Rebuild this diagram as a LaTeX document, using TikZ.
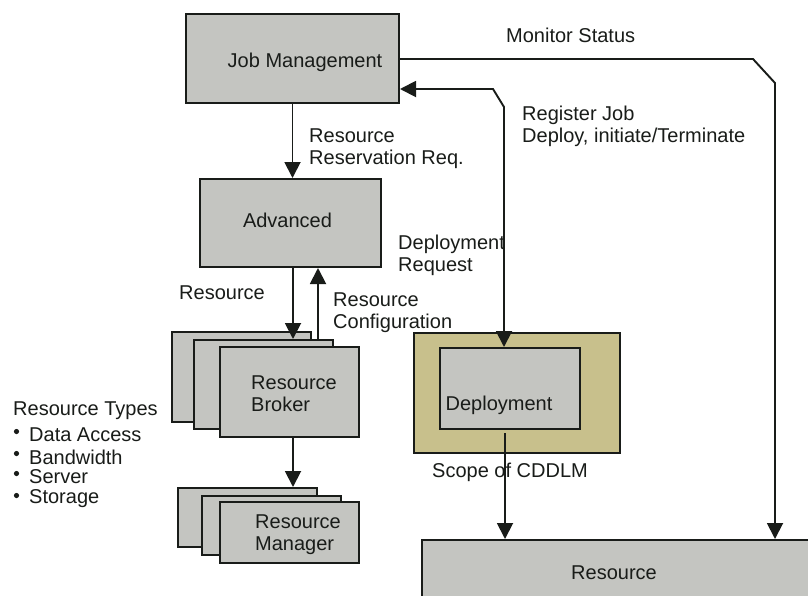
\documentclass[tikz,border=0pt]{standalone}
\usepackage{fontspec}
\setmainfont{Liberation Sans}
\usetikzlibrary{arrows.meta,calc}
\definecolor{boxgray}{RGB}{196,197,193}
\definecolor{scopetan}{RGB}{200,192,140}
\definecolor{ink}{RGB}{25,28,25}
\begin{document}
\begin{tikzpicture}[x=1pt,y=-1pt,
  box/.style={draw=ink,line width=2pt,fill=boxgray,inner sep=0pt},
  txt/.style={inner sep=0pt,text=ink,font=\fontsize{20}{21.8}\selectfont,align=left},
  conn/.style={line width=1.9pt,draw=ink},
  tip/.style={-{Triangle[width=16pt,length=16pt]}},
  bothtip/.style={{Triangle[width=16pt,length=16pt]}-{Triangle[width=16pt,length=16pt]}}]
\useasboundingbox (0,0) rectangle (808,595);
\clip (0,0) rectangle (808,595);
\fill[white] (0,0) rectangle (808,595);

% boxes
\node[box,minimum width=213pt,minimum height=89pt] (jm) at (292.5,58.5) {};
\node[txt] (jmt) at (305,62) {Job Management};
\node[box,minimum width=181pt,minimum height=88pt] (adv) at (290.5,223) {};
\node[txt] (advt) at (287.5,220) {Advanced};

\node[box,minimum width=139pt,minimum height=90pt] (rb1) at (241.5,377) {};
\node[box,minimum width=139pt,minimum height=89pt] (rb2) at (263.5,384.5) {};
\node[box,minimum width=139pt,minimum height=90pt] (rb) at (289.5,392) {};
\node[txt] (rbt) at (294,393.5) {Resource\\Broker};

\node[box,minimum width=139pt,minimum height=59pt] (rm1) at (247.5,517.5) {};
\node[box,minimum width=139pt,minimum height=59pt] (rm2) at (271.5,525.5) {};
\node[box,minimum width=139pt,minimum height=61pt] (rm) at (289.5,532.5) {};
\node[txt] (rmt) at (298,535) {Resource\\Manager};

\node[box,fill=scopetan,minimum width=206pt,minimum height=120pt] (scope) at (517,393) {};
\node[box,minimum width=140pt,minimum height=81pt] (dep) at (510,388.5) {};
\node[txt] (dept) at (499,405) {Deployment};

\node[box,minimum width=400pt,minimum height=70pt] (res) at (622,575) {};
\node[txt] (rest) at (614,573) {Resource};

% connectors
\draw[conn,tip] (jm.south) -- (jm.south |- adv.north);
\coordinate (a1) at ($(adv.south)+(2.5,0)$);
\draw[conn,tip] (a1) -- (a1 |- rb2.north);
\coordinate (a2) at ($(adv.south)+(27.5,0)$);
\draw[conn,tip] (a2 |- rb2.north) -- (a2);
\coordinate (a3) at ($(rb.south)+(3.5,0)$);
\draw[conn,tip] (a3) -- (a3 |- rm1.north);

\coordinate (r1) at (493,89);
\coordinate (r2) at (504,107);
\draw[conn,bothtip] (jm.east |- r1) -- (r1) -- (r2) -- (r2 |- dep.north);

\coordinate (m1) at (753,59);
\coordinate (m2) at (775,83);
\draw[conn,tip] (jm.east |- m1) -- (m1) -- (m2) -- (m2 |- res.north);

\coordinate (d1) at ($(dep.south)+(-5,3)$);
\draw[conn,tip] (d1) -- (d1 |- res.north);

% labels
\node[txt,anchor=west] (lms) at (506,35) {Monitor Status};
\node[txt,anchor=west] (lrj) at (522,126.5) {Register Job\\Deploy, initiate/Terminate};
\node[txt,anchor=west] (lrr) at (309,149) {Resource\\Reservation Req.};
\node[txt,anchor=west] (ldr) at (398,255.5) {Deployment\\Request};
\node[txt,anchor=west] (lr) at (179,293) {Resource};
\node[txt,anchor=west] (lrc) at (333,312.5) {Resource\\Configuration};
\node[txt,anchor=west] (lsc) at (432,472) {Scope of CDDLM};

\node[txt,anchor=west] (lrt) at (13,411) {Resource Types};
\foreach \y/\t [count=\i] in {435/Data Access,457/Bandwidth,477/Server,499/Storage}{
  \fill[ink] (16.5,\y-3.5) circle (2.6pt);
  \node[txt,anchor=west] (li\i) at (29,\y) {\t};
}
\end{tikzpicture}
\end{document}
